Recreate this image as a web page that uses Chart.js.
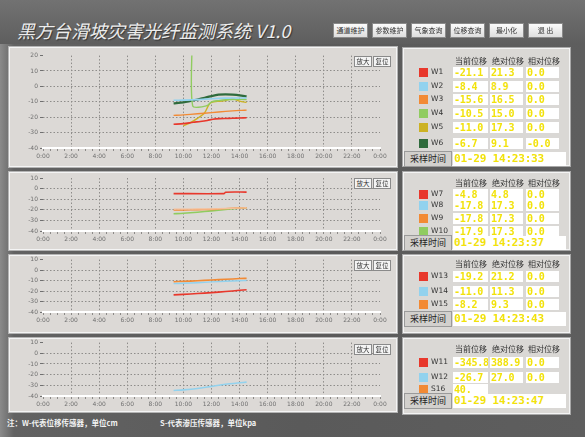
<!DOCTYPE html>
<html>
<head>
<meta charset="utf-8">
<script src="https://cdn.jsdelivr.net/npm/chart.js@4.4.1/dist/chart.umd.min.js"></script>
<style>
  html, body { margin: 0; padding: 0; }
  body {
    width: 585px; height: 437px; position: relative; overflow: hidden;
    background: linear-gradient(90deg, #8a8a8a 0, #626262 14px, #5a5a5a 300px, #5e5e5e 585px);
    font-family: "Noto Sans CJK SC", sans-serif;
  }
  #head { position: absolute; left: 0; top: 0; width: 585px; height: 44px; background: linear-gradient(#727272, #5e5e5e); }
  #title { position: absolute; left: 17px; top: 20px; font-size: 18px; line-height: 20px; color: #ededed; font-style: italic; text-shadow: 1px 1px 1px #333; white-space: nowrap; }
  .btn { position: absolute; top: 23px; width: 33px; height: 13px; background: linear-gradient(#fbfbfb, #dedede); border: 1px solid #8a8a8a; font-size: 7px; line-height: 13px; text-align: center; color: #333; }
  .cpanel { position: absolute; left: 9px; width: 386px; background: #dcd9d6; border: 1px solid #f4f4f4; box-shadow: 0 0 0 1px #b4b4b4; }
  canvas { position: absolute; left: 10px; }
  .sbtn { position: absolute; height: 9px; width: 16px; background: #f4f4f4; border: 1px solid #8a8a8a; font-size: 6.5px; line-height: 9px; text-align: center; color: #333; }
  .tpanel { position: absolute; left: 403px; width: 165px; background: #dad8d5; border: 1px solid #f4f4f4; box-shadow: 0 0 0 1px #a8a8a8; }
  .th { position: absolute; font-size: 8px; color: #333; line-height: 10px; white-space: nowrap; }
  .sw { position: absolute; left: 15px; width: 9px; height: 9px; }
  .nm { position: absolute; left: 27px; font-size: 7.5px; line-height: 10px; color: #333; font-family: "DejaVu Sans", sans-serif; }
  .cell { position: absolute; height: 11px; background: #fff; color: #f2e20a; font-family: "DejaVu Sans Mono", monospace; font-weight: bold; font-size: 10px; letter-spacing: -0.2px; line-height: 11px; padding-left: 1px; white-space: nowrap; overflow: hidden; }
  .tl { position: absolute; left: 0; width: 46px; height: 14px; background: #d2d0cd; border: 1px solid #9a9a9a; font-size: 9px; line-height: 14px; text-align: center; color: #222; }
  .foot { position: absolute; top: 417px; font-size: 7.5px; color: #f2f2f2; white-space: nowrap; font-weight: bold; }
</style>
</head>
<body>
<div id="head"></div>
<div id="title">黑方台滑坡灾害光纤监测系统 V1.0</div>

<div class="cpanel" style="top:47px;height:118px"></div>
<div class="cpanel" style="top:172px;height:76px"></div>
<div class="cpanel" style="top:255px;height:76px"></div>
<div class="cpanel" style="top:338px;height:72px"></div>

<canvas id="c1" width="385" height="115" style="top:50px"></canvas>
<canvas id="c2" width="385" height="76" style="top:172px"></canvas>
<canvas id="c3" width="385" height="75" style="top:254px"></canvas>
<canvas id="c4" width="385" height="73" style="top:337px"></canvas>

<div class="foot" style="left:7px">注：W-代表位移传感器，单位cm</div>
<div class="foot" style="left:160px">S-代表渗压传感器，单位kpa</div>

<script>
// top menu
const menuLabels = ['通道维护', '参数维护', '气象查询', '位移查询', '最小化', '退  出'];

// x axis: hours of the day
const hourTicks = [0, 24];

// chart 1: W1..W6
const names1 = ['W1', 'W2', 'W3', 'W4', 'W5', 'W6'];
const hoursW1 = [9.3, 10, 10.7, 11.2, 11.7, 12.1, 12.6, 13, 13.5, 14, 14.5];
const valsW1 = [-24.6, -24.2, -23.3, -22.8, -22.1, -21.3, -20.9, -20.8, -20.7, -20.5, -20.4];
const hoursW2 = [9.3, 10, 11, 12, 13, 14, 14.5];
const valsW2 = [-9.0, -8.9, -8.6, -8.0, -7.6, -7.5, -7.6];
const hoursW3 = [9.3, 10, 11, 12, 13, 14, 14.5];
const valsW3 = [-18.8, -18.5, -17.8, -17.0, -16.2, -15.6, -15.4];
const hoursW4 = [10.62, 10.66, 11.65, 12, 12.5, 13, 14, 14.5];
const valsW4 = [30, -12.7, -12.6, -10.0, -9.2, -8.7, -8.4, -8.6];
const hoursW5 = [10, 10.5, 11, 11.5, 11.8, 12, 12.5, 13, 13.5, 14, 14.5];
const valsW5 = [-25.6, -23.5, -20.8, -17.3, -12.1, -10.4, -9.6, -9.2, -7.9, -9.6, -10.4];
const hoursW6 = [9.3, 10, 11, 12, 12.5, 13, 13.5, 14, 14.5];
const valsW6 = [-11.0, -10.4, -8.5, -6.3, -5.4, -5.2, -5.4, -5.8, -6.5];

// chart 2: W7..W10
const names2 = ['W7', 'W8', 'W9', 'W10'];
const hoursW7 = [9.3, 12.9, 13.0, 14.5];
const valsW7 = [-4.7, -4.7, -3.4, -3.3];
const hoursW8 = [9.3, 10, 11, 12, 13, 14, 14.5];
const valsW8 = [-19.4, -19.4, -19.3, -19.2, -18.8, -18.3, -18.0];
const hoursW9 = [9.3, 10, 11, 12, 12.5, 13, 14, 14.5];
const valsW9 = [-20.3, -20.2, -20.0, -19.7, -19.3, -18.9, -18.3, -18.0];
const hoursW10 = [9.3, 10, 11, 12, 13, 14, 14.5];
const valsW10 = [-23.7, -23.3, -22.3, -21.0, -19.7, -18.4, -18.0];

// chart 3: W13..W15
const names3 = ['W13', 'W14', 'W15'];
const hoursW13 = [9.3, 10, 11, 12, 13, 14, 14.5];
const valsW13 = [-23.7, -23.2, -22.4, -21.5, -20.5, -19.3, -18.7];
const hoursW14 = [9.3, 10, 11, 12, 13, 14, 14.5];
const valsW14 = [-12.9, -12.6, -12.1, -11.3, -10.7, -10.2, -10.0];
const hoursW15 = [9.3, 10, 11, 12, 13, 14, 14.5];
const valsW15 = [-11.1, -10.8, -10.2, -9.5, -8.8, -8.1, -7.9];

// chart 4: W11, W12, S16
const names4 = ['W11', 'W12', 'S16'];
const hoursW11 = [9.3, 14.5];
const valsW11 = [-346.0, -345.8];
const hoursW12 = [9.3, 10, 11, 12, 13, 14, 14.5];
const valsW12 = [-34.8, -34.3, -33.0, -31.0, -29.0, -27.6, -27.0];
const hoursS16 = [9.3, 14.5];
const valsS16 = [40, 40];

// table readouts
const cur1 = ['-21.1', '-8.4', '-15.6', '-10.5', '-11.0', '-6.7'];
const abs1 = ['21.3', '8.9', '16.5', '15.0', '17.3', '9.1'];
const rel1 = ['0.0', '0.0', '0.0', '0.0', '0.0', '-0.0'];
const time1 = '01-29 14:23:33';
const cur2 = ['-4.8', '-17.8', '-17.8', '-17.9'];
const abs2 = ['4.8', '17.3', '17.3', '17.3'];
const rel2 = ['0.0', '0.0', '0.0', '0.0'];
const time2 = '01-29 14:23:37';
const cur3 = ['-19.2', '-11.0', '-8.2'];
const abs3 = ['21.2', '11.3', '9.3'];
const rel3 = ['0.0', '0.0', '0.0'];
const time3 = '01-29 14:23:43';
const cur4 = ['-345.8', '-26.7', '40.'];
const abs4 = ['388.9', '27.0', ''];
const rel4 = ['0.0', '0.0', ''];
const time4 = '01-29 14:23:47';

const colors1 = ['#e8382c', '#92d2ee', '#f28a34', '#90cc60', '#ccb224', '#2f6b3c'];
const colors2 = ['#e8382c', '#92d2ee', '#f28a34', '#90cc60'];
const colors3 = ['#e8382c', '#92d2ee', '#f28a34'];
const colors4 = ['#e8382c', '#92d2ee', '#f28a34'];

// menu buttons
menuLabels.forEach((t, i) => {
  const b = document.createElement('div');
  b.className = 'btn';
  b.style.left = (333 + i * 39) + 'px';
  b.textContent = t;
  document.body.appendChild(b);
});

// zoom / reset buttons per chart
[56, 178, 260, 344].forEach(top => {
  ['放大', '复位'].forEach((t, i) => {
    const b = document.createElement('div');
    b.className = 'sbtn';
    b.style.top = top + 'px';
    b.style.left = (354 + i * 19) + 'px';
    b.textContent = t;
    document.body.appendChild(b);
  });
});

function pts(hours, vals) {
  return hours.map((h, i) => ({ x: h, y: vals[i] }));
}

function makeChart(id, yMax, series, colors, widths, pad, xh) {
  new Chart(document.getElementById(id), {
    type: 'line',
    data: {
      datasets: series.map((s, i) => ({
        data: s,
        borderColor: colors[i],
        borderWidth: widths[i],
        pointRadius: 0,
        tension: 0.25,
        fill: false
      }))
    },
    options: {
      responsive: false,
      animation: false,
      events: [],
      layout: { padding: { top: pad, right: 15, left: 0, bottom: 0 } },
      plugins: { legend: { display: false }, tooltip: { enabled: false } },
      scales: {
        x: {
          type: 'linear', min: hourTicks[0], max: hourTicks[1],
          afterFit: sc => { sc.height = xh; },
          border: { display: true, color: '#ffffff', width: 2, dash: [1.5, 2] },
          grid: {
            color: c => (c.tick && c.tick.value % 2 === 0 && c.tick.value > 0 && c.tick.value < 24) ? '#8e8c8a' : 'rgba(0,0,0,0)',
            tickColor: '#8c8a88', tickLength: 3, lineWidth: 1
          },
          ticks: {
            stepSize: 0.5, autoSkip: false, maxRotation: 0, padding: 2,
            color: '#707070', font: { size: 6, family: 'DejaVu Sans' },
            callback: v => (v % 2 === 0) ? (v % 24) + ':00' : ''
          }
        },
        y: {
          min: -40, max: yMax,
          afterFit: sc => { sc.width = 33; },
          border: { display: false, dash: [1.5, 2] },
          grid: {
            color: c => (c.tick && c.tick.value < yMax && c.tick.value > -40) ? '#8e8c8a' : 'rgba(0,0,0,0)',
            tickColor: '#707070', tickLength: 3
          },
          ticks: {
            stepSize: 10, padding: 2,
            color: '#707070', font: { size: 6, family: 'DejaVu Sans' }
          }
        }
      }
    }
  });
}

makeChart('c1', 20, [
  pts(hoursW1, valsW1), pts(hoursW2, valsW2), pts(hoursW3, valsW3),
  pts(hoursW4, valsW4), pts(hoursW5, valsW5), pts(hoursW6, valsW6)
], colors1, [1.6, 1.6, 1.4, 1.4, 1.4, 2.2], 5, 17);

makeChart('c2', 10, [
  pts(hoursW7, valsW7), pts(hoursW8, valsW8), pts(hoursW9, valsW9), pts(hoursW10, valsW10)
], ['#e8382c', '#f6c09a', '#f28a34', '#90cc60'], [1.6, 1.4, 1.4, 1.6], 6, 17);

makeChart('c3', 10, [
  pts(hoursW13, valsW13), pts(hoursW14, valsW14), pts(hoursW15, valsW15)
], colors3, [1.6, 1.4, 1.6], 5, 17);

makeChart('c4', 10, [
  pts(hoursW11, valsW11), pts(hoursW12, valsW12), pts(hoursS16, valsS16)
], colors4, [1.4, 1.6, 1.4], 5, 14);

// readout tables
function buildTable(lay, names, colors, cur, abs, rel, time) {
  const p = document.createElement('div');
  p.className = 'tpanel';
  p.style.top = lay.top + 'px';
  p.style.height = lay.height + 'px';
  document.body.appendChild(p);
  const add = (cls, css, text) => {
    const d = document.createElement('div');
    d.className = cls;
    Object.assign(d.style, css);
    if (text !== undefined) d.textContent = text;
    p.appendChild(d);
  };
  const colX = [49, 86, 122];
  const colW = [34, 32, 32];
  ['当前位移', '绝对位移', '相对位移'].forEach((t, i) => {
    add('th', { left: (colX[i] + 2) + 'px', top: (lay.head - 5) + 'px' }, t);
  });
  names.forEach((n, r) => {
    const y = lay.rows[r];
    add('sw', { top: (y - 4.5) + 'px', background: colors[r] });
    add('nm', { top: (y - 5) + 'px' }, n);
    [cur[r], abs[r], rel[r]].forEach((v, c) => {
      if (v === '') return;
      add('cell', { left: colX[c] + 'px', width: colW[c] + 'px', top: (y - 5.5) + 'px' }, v);
    });
  });
  add('tl', { top: (lay.time - 8) + 'px' }, '采样时间');
  add('cell', { left: '49px', width: '112px', height: '14px', lineHeight: '14px', fontSize: '11px', top: (lay.time - 7) + 'px' }, time);
}

buildTable({ top: 48, height: 116, head: 12, rows: [23, 37, 50, 64, 78, 94], time: 110 }, names1, colors1, cur1, abs1, rel1, time1);
buildTable({ top: 172, height: 76, head: 10, rows: [21, 32, 45, 58], time: 70 }, names2, colors2, cur2, abs2, rel2, time2);
buildTable({ top: 255, height: 76, head: 8, rows: [20, 35, 48], time: 63 }, names3, colors3, cur3, abs3, rel3, time3);
buildTable({ top: 338, height: 74, head: 10, rows: [23, 38, 50], time: 62 }, names4, colors4, cur4, abs4, rel4, time4);
</script>
</body>
</html>
